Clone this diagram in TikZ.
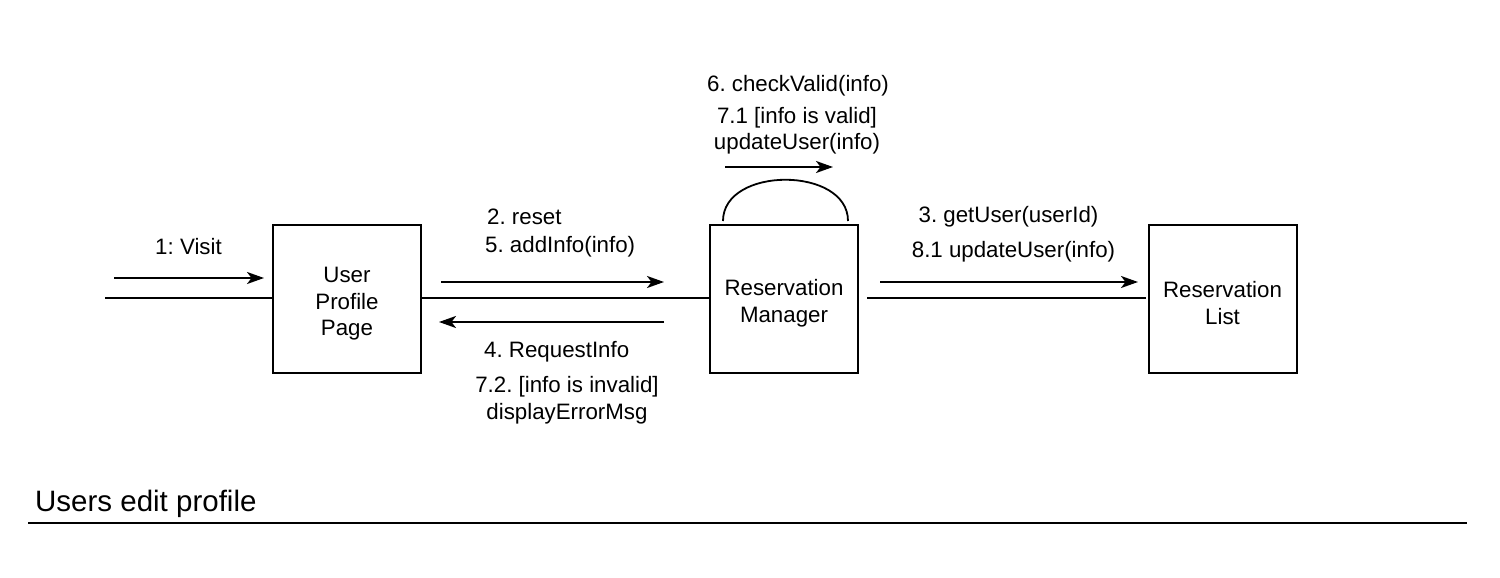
\documentclass[tikz,border=0pt]{standalone}
\usepackage{fontspec}
\setmainfont{Liberation Sans}
\usetikzlibrary{arrows.meta}
\frenchspacing
\begin{document}
\frenchspacing
\begin{tikzpicture}[x=1pt,y=-1pt,
  obj/.style={draw,line width=2pt,minimum width=148pt,minimum height=148pt,inner sep=0pt},
  lbl/.style={align=center,inner sep=0pt,font=\fontsize{22.3}{26.5}\selectfont\frenchspacing},
  link/.style={line width=2pt},
  msg/.style={line width=2pt,-{Stealth[length=17pt,width=12pt,inset=4.5pt]}}]
\useasboundingbox (0,0) rectangle (1500,578);
% objects
\node[obj,label={[lbl,yshift=-5pt]center:User\\Profile\\Page}] (upp) at (347,299) {};
\node[obj,label={[lbl,yshift=-4pt]center:Reservation\\Manager}] (rm) at (784,299) {};
\node[obj,label={[lbl,yshift=-4pt]center:Reservation\\List}] (rl) at (1222.5,299) {};
% links
\coordinate (start) at (105,298);
\draw[link] (start) -- (upp.west |- start);
\draw[link] (upp.east |- start) -- (rm.west |- start);
\draw[link] ([xshift=8pt]rm.east |- start) -- ([xshift=-2pt]rl.west |- start);
% self loop
\coordinate (la) at (723,221);
\coordinate (lb) at (848,221);
\draw[line width=1.8pt] (la) .. controls (723,166) and (848,166) .. (lb);
% message arrows
\coordinate (m1a) at (114,278); \coordinate (m1b) at (264,278);
\draw[msg] (m1a) -- (m1b);
\coordinate (m2a) at (441,282); \coordinate (m2b) at (664,282);
\draw[msg] (m2a) -- (m2b);
\coordinate (m4a) at (664,322); \coordinate (m4b) at (439,322);
\draw[msg] (m4a) -- (m4b);
\coordinate (m6a) at (725,167); \coordinate (m6b) at (833,167);
\draw[msg] (m6a) -- (m6b);
\coordinate (m3a) at (880,282); \coordinate (m3b) at (1138,282);
\draw[msg] (m3a) -- (m3b);
% labels
\node[lbl] (l1) at (188.5,247) {1: Visit};
\node[lbl,anchor=west] (l2) at (487,217) {2. reset};
\node[lbl,anchor=west] (l5) at (485,247) {5. addInfo(info)};
\node[lbl,anchor=west] (l4) at (484,352) {4. RequestInfo};
\node[lbl] (l72) at (567,400) {7.2. [info is invalid]\\displayErrorMsg};
\node[lbl] (l6) at (798,86) {6. checkValid(info)};
\node[lbl] (l71) at (797,130.5) {7.1 [info is valid]\\updateUser(info)};
\node[lbl] (l3) at (1008.5,217) {3. getUser(userId)};
\node[lbl] (l81) at (1013.5,252) {8.1 updateUser(info)};
% title
\node[anchor=base west,inner sep=0pt,font=\fontsize{29.5}{34}\selectfont] (title) at (35,511.5) {Users edit profile};
\coordinate (ta) at (28,522.5); \coordinate (tb) at (1467,522.5);
\draw[line width=2pt] (ta) -- (tb);
\end{tikzpicture}
\end{document}
